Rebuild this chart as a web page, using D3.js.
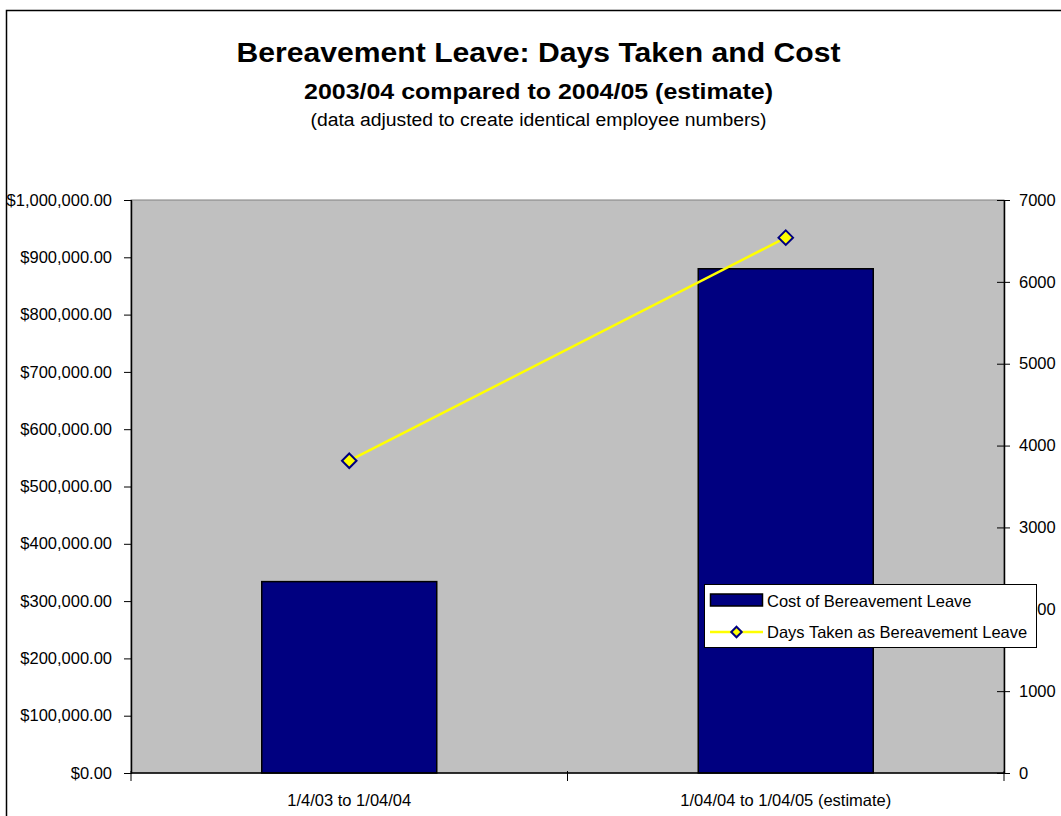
<!DOCTYPE html>
<html>
<head>
<meta charset="utf-8">
<script src="https://cdn.jsdelivr.net/npm/d3@7"></script>
<style>
  html, body { margin: 0; padding: 0; background: #ffffff; }
  svg { display: block; font-family: "Liberation Sans", Arial, sans-serif; }
</style>
</head>
<body>
<svg id="chart" width="1061" height="816"></svg>
<script>
// Periods on the category axis
const periods = ["1/4/03 to 1/04/04", "1/04/04 to 1/04/05 (estimate)"];
// Cost of bereavement leave (left axis, dollars)
const costValues = [334000, 880000];
// Days taken as bereavement leave (right axis)
const dayValues = [3815, 6540];
// Axis tick values
const costTicks = [0, 100000, 200000, 300000, 400000, 500000, 600000, 700000, 800000, 900000, 1000000];
const dayTicks = [0, 1000, 2000, 3000, 4000, 5000, 6000, 7000];
const seriesNames = ["Cost of Bereavement Leave", "Days Taken as Bereavement Leave"];

const FONT = "'Liberation Sans', Arial, sans-serif";
const LABEL_SIZE = 16.5;

const svg = d3.select("#chart");
const plot = { left: 131, right: 1004, top: 200, bottom: 773 };

// Chart frame
svg.append("rect")
  .attr("x", 6.5).attr("y", 10.5)
  .attr("width", 1100).attr("height", 900)
  .attr("fill", "#ffffff").attr("stroke", "#000").attr("stroke-width", 1.5);

// Titles
const titles = [
  { text: "Bereavement Leave: Days Taken and Cost", size: 27, weight: "bold", y: 62, len: 604 },
  { text: "2003/04 compared to 2004/05 (estimate)", size: 22, weight: "bold", y: 99, len: 469 },
  { text: "(data adjusted to create identical employee numbers)", size: 18, weight: "normal", y: 126, len: 456 }
];
svg.append("g").selectAll("text").data(titles).join("text")
  .attr("x", 538.5).attr("y", d => d.y)
  .attr("text-anchor", "middle")
  .attr("font-size", d => d.size).attr("font-weight", d => d.weight)
  .attr("textLength", d => d.len).attr("lengthAdjust", "spacingAndGlyphs")
  .text(d => d.text);

// Scales
const x = d3.scaleBand().domain(periods).range([plot.left, plot.right]).paddingInner(0).paddingOuter(0);
const yCost = d3.scaleLinear().domain([0, 1000000]).range([plot.bottom, plot.top]);
const yDays = d3.scaleLinear().domain([0, 7000]).range([plot.bottom, plot.top]);

// Plot area background
svg.append("rect")
  .attr("x", plot.left).attr("y", plot.top)
  .attr("width", plot.right - plot.left).attr("height", plot.bottom - plot.top)
  .attr("fill", "#c0c0c0").attr("stroke", "#808080").attr("stroke-width", 1);

// Bars
const barWidth = 175;
svg.append("g").selectAll("rect").data(costValues).join("rect")
  .attr("x", (d, i) => x(periods[i]) + x.bandwidth() / 2 - barWidth / 2)
  .attr("y", d => yCost(d))
  .attr("width", barWidth)
  .attr("height", d => yCost(0) - yCost(d))
  .attr("fill", "#000080").attr("stroke", "#000").attr("stroke-width", 1.5);

// Left axis
const fmtCost = d => "$" + d3.format(",.2f")(d);
const leftAxis = svg.append("g")
  .attr("transform", `translate(${plot.left},0)`)
  .call(d3.axisLeft(yCost).tickValues(costTicks).tickFormat(fmtCost).tickSize(8).tickSizeOuter(0).tickPadding(11));
leftAxis.select(".domain").attr("stroke", "#000").attr("stroke-width", 1.5);
leftAxis.selectAll(".tick line").attr("stroke", "#000").attr("transform", "translate(1,0)");
leftAxis.selectAll(".tick text").attr("font-size", 16).attr("fill", "#000").attr("font-family", FONT)
  .attr("textLength", function () { return this.getComputedTextLength() * 1.03; })
  .attr("lengthAdjust", "spacingAndGlyphs");

// Right axis (ticks cross the axis line)
const rightAxis = svg.append("g")
  .attr("transform", `translate(${plot.right},0)`)
  .call(d3.axisRight(yDays).tickValues(dayTicks).tickFormat(d3.format("d")).tickSize(13).tickSizeOuter(0).tickPadding(2));
rightAxis.select(".domain").attr("stroke", "#000").attr("stroke-width", 1.5);
rightAxis.selectAll(".tick line").attr("stroke", "#000").attr("transform", "translate(-7,0)");
rightAxis.selectAll(".tick text").attr("font-size", LABEL_SIZE).attr("fill", "#000").attr("font-family", FONT);

// Bottom axis with ticks between categories
const bottom = svg.append("g");
bottom.append("line")
  .attr("x1", plot.left).attr("x2", plot.right)
  .attr("y1", plot.bottom).attr("y2", plot.bottom)
  .attr("stroke", "#000").attr("stroke-width", 1.5);
const catEdges = [plot.left, ...periods.slice(1).map(p => x(p)), plot.right];
bottom.selectAll("line.cat").data(catEdges).join("line")
  .attr("class", "cat")
  .attr("x1", d => d).attr("x2", d => d)
  .attr("y1", plot.bottom - 2).attr("y2", plot.bottom + 8)
  .attr("stroke", "#000");
bottom.selectAll("text").data(periods).join("text")
  .attr("x", d => x(d) + x.bandwidth() / 2)
  .attr("y", 806)
  .attr("text-anchor", "middle").attr("font-size", LABEL_SIZE)
  .text(d => d);

// Days line and markers
const cx = (d, i) => x(periods[i]) + x.bandwidth() / 2;
const line = d3.line().x((d, i) => cx(d, i)).y(d => yDays(d));
svg.append("path").datum(dayValues)
  .attr("d", line).attr("fill", "none")
  .attr("stroke", "#ffff00").attr("stroke-width", 2.5);
const diamond = d3.symbol().type(d3.symbolDiamond2).size(135);
svg.append("g").selectAll("path").data(dayValues).join("path")
  .attr("d", diamond)
  .attr("transform", (d, i) => `translate(${cx(d, i)},${yDays(d)})`)
  .attr("fill", "#ffff00").attr("stroke", "#000080").attr("stroke-width", 2);

// Legend
const legendDiamond = d3.symbol().type(d3.symbolDiamond2).size(70);
const lg = svg.append("g").attr("transform", "translate(704,584)");
lg.append("rect").attr("x", 0.5).attr("y", 0.5).attr("width", 332).attr("height", 63)
  .attr("fill", "#ffffff").attr("stroke", "#000").attr("stroke-width", 1);
lg.append("rect").attr("x", 6.5).attr("y", 10).attr("width", 52).attr("height", 12)
  .attr("fill", "#000080").attr("stroke", "#000").attr("stroke-width", 1.5);
lg.append("line").attr("x1", 6).attr("x2", 59).attr("y1", 48).attr("y2", 48)
  .attr("stroke", "#ffff00").attr("stroke-width", 2.5);
lg.append("path").attr("d", legendDiamond).attr("transform", "translate(32.5,48)")
  .attr("fill", "#ffff00").attr("stroke", "#000080").attr("stroke-width", 2);
lg.selectAll("text").data(seriesNames).join("text")
  .attr("x", 63).attr("y", (d, i) => 23 + i * 31)
  .attr("font-size", LABEL_SIZE)
  .text(d => d);
</script>
</body>
</html>
